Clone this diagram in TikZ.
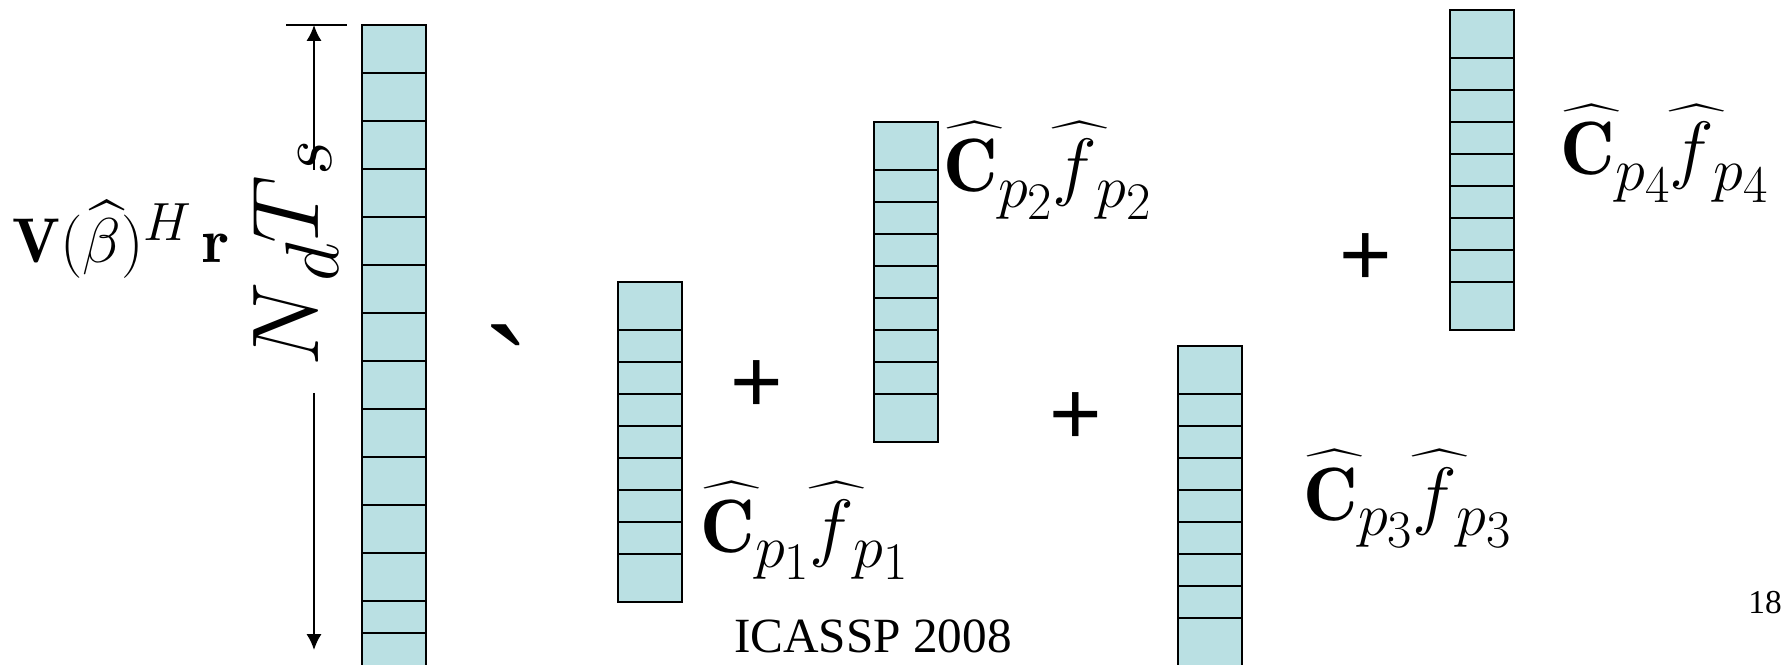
\RequirePackage{fix-cm}
\documentclass[tikz,border=0pt]{standalone}
\usepackage{amsmath, amssymb, bm}
\usepackage{fontspec}
\newfontfamily\timesfont{Liberation Serif}
\newfontfamily\arialfont{Liberation Sans}
\usepackage{tikz}
\usetikzlibrary{positioning}
\usetikzlibrary{arrows.meta}
\definecolor{cellfill}{RGB}{186,224,227}
% large, lowered indices and a flat hat
\newcommand{\lowsub}[2]{\raisebox{-0.2em}{\scalebox{0.8}{$#1$}}\raisebox{-0.36em}{\scalebox{0.7}{$#2$}}}
\newcommand{\flathat}[2][0.05em]{\rlap{\kern#1\raisebox{0.5em}{\scalebox{1.3}[0.6]{$\widehat{\hphantom{x}}$}}}#2}

\begin{document}
\begin{tikzpicture}[
		vec/.style={draw, fill=cellfill, line width=0.6pt, minimum width=0.64cm, inner sep=0pt, outer sep=0pt, anchor=north west},
		row line/.style={line width=0.6pt},
		dim line/.style={line width=0.6pt, -{Latex[length=4.5pt,width=4.3pt]}},
		coef label/.style={anchor=base west, inner sep=0pt, font=\fontsize{21.5}{25}\selectfont},
		plus sign/.style={inner sep=0pt, font=\arialfont\fontsize{25.6}{30}\selectfont}
		]
		\clip (0,0) rectangle (17.85,6.64);
		% received vector
		\node[vec, minimum height=6.9cm] (r0) at (3.62,6.39) {};
		\foreach \k in {1,...,12}
			\draw[row line] ([yshift=-\k*4.8mm]r0.north west) -- ([yshift=-\k*4.8mm]r0.north east);
		\draw[row line] ([yshift=-60.8mm]r0.north west) -- ([yshift=-60.8mm]r0.north east);
		\node[anchor=base west, inner sep=0pt, font=\fontsize{18}{22}\selectfont] (lhs) at (0.12,4.01)
			{$\mathbf{V}(\widehat{\beta})\raisebox{0.35em}{\scalebox{0.85}{$H$}}\,\mathbf{r}$};
		
		% length of the vector
		\coordinate (top) at (3.14,6.39);
		\coordinate (bot) at (3.14,0.14);
		\coordinate (gaptop) at (3.14,4.94);
		\coordinate (gapbot) at (3.14,2.71);
		\node[rotate=90, anchor=base west, inner sep=0pt, font=\fontsize{27}{32}\selectfont] (len) at (3.18,2.97)
			{$N\raisebox{-0.22em}{\scalebox{0.8}{$d$}}T\raisebox{-0.14em}{\scalebox{0.8}{$s$}}$};
		\draw[row line] ([xshift=-2.8mm]top) -- ([xshift=3.3mm]top);
		\draw[dim line] (gaptop) -- (top);
		\draw[dim line] (gapbot) -- (bot);
		
		\node (approx) at (5.07,2.90) {\timesfont\fontsize{40}{44}\selectfont\symbol{96}};
		
		% path vectors
		\node[vec, minimum height=3.2cm] (c1) at (6.18,3.82) {};
		\node[vec, minimum height=3.2cm] (c2) at (8.74,5.42) {};
		\node[vec, minimum height=3.2cm] (c3) at (11.78,3.18) {};
		\node[vec, minimum height=3.2cm] (c4) at (14.50,6.54) {};
		\foreach \c in {c1,c2,c3,c4}
			\foreach \k in {0,...,7}
				\draw[row line] ([yshift=-4.8mm-\k*3.2mm]\c.north west) -- ([yshift=-4.8mm-\k*3.2mm]\c.north east);
		
		\node[coef label] (l1) at (7.00,1.12) {$\flathat{\mathbf{C}}\lowsub{p}{1}\flathat[0em]{f}\lowsub{p}{1}$};
		\node[coef label] (l2) at (9.43,4.72) {$\flathat{\mathbf{C}}\lowsub{p}{2}\flathat[0em]{f}\lowsub{p}{2}$};
		\node[coef label] (l3) at (13.03,1.44) {$\flathat{\mathbf{C}}\lowsub{p}{3}\flathat[0em]{f}\lowsub{p}{3}$};
		\node[coef label] (l4) at (15.60,4.89) {$\flathat{\mathbf{C}}\lowsub{p}{4}\flathat[0em]{f}\lowsub{p}{4}$};
		
		\node[plus sign] (s1) at (7.57,2.77) {+};
		\node[plus sign] (s2) at (10.76,2.45) {+};
		\node[plus sign] (s3) at (13.66,4.04) {+};
		
		\node[anchor=base, inner sep=0pt, font=\timesfont\fontsize{14}{16}\selectfont] (conf) at (8.73,0.12) {ICASSP 2008};
		\node[anchor=base, inner sep=0pt, font=\timesfont\fontsize{9.5}{11}\selectfont] (page) at (17.65,0.51) {18};
\end{tikzpicture}
\end{document}
